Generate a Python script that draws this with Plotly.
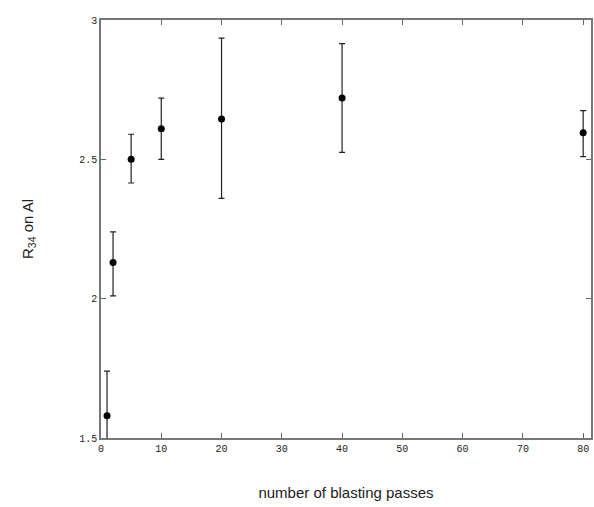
import plotly.graph_objects as go

passes = [1, 2, 5, 10, 20, 40, 80]
r34 = [1.58, 2.13, 2.50, 2.61, 2.645, 2.72, 2.595]
err_plus = [0.16, 0.11, 0.09, 0.11, 0.29, 0.195, 0.08]
err_minus = [0.16, 0.12, 0.085, 0.11, 0.285, 0.195, 0.085]

x_ticks = [0, 10, 20, 30, 40, 50, 60, 70, 80]
y_ticks = [1.5, 2, 2.5, 3]
y_tick_text = ["1.5", "2", "2.5", "3"]

fig = go.Figure()
fig.add_trace(go.Scatter(
    x=passes, y=r34, mode="markers",
    marker=dict(color="black", size=7, symbol="circle"),
    error_y=dict(type="data", symmetric=False, array=err_plus, arrayminus=err_minus,
                 color="#222", thickness=1.2, width=3),
    cliponaxis=True,
    showlegend=False,
))

axis_common = dict(
    showline=True, linecolor="#777", linewidth=1.5, mirror="ticks",
    ticks="inside", ticklen=5, tickcolor="#666", tickwidth=1.2,
    showgrid=False, zeroline=False, automargin=False,
    tickfont=dict(family="Liberation Mono, DejaVu Sans Mono, monospace", size=10, color="#222"),
)

fig.update_layout(
    width=594, height=507,
    margin=dict(l=101, r=3, t=20, b=69),
    paper_bgcolor="white", plot_bgcolor="white",
    xaxis=dict(range=[0, 81.3], tickvals=x_ticks,
               title=dict(text="number of blasting passes",
                          font=dict(family="Liberation Sans, Arial, sans-serif", size=15, color="#222"),
                          standoff=34),
               **axis_common),
    yaxis=dict(range=[1.5, 3], tickvals=y_ticks, ticktext=y_tick_text,
               title=dict(text="R<sub>34</sub> on Al",
                          font=dict(family="Liberation Sans, Arial, sans-serif", size=15, color="#222"),
                          standoff=42),
               **axis_common),
)

# remove the browser's default page margin so the figure fills the window exactly
fig.write_html(
    "out.html",
    config={"displayModeBar": False},
    post_script="document.body.style.margin='0';document.body.style.overflow='hidden';",
)
